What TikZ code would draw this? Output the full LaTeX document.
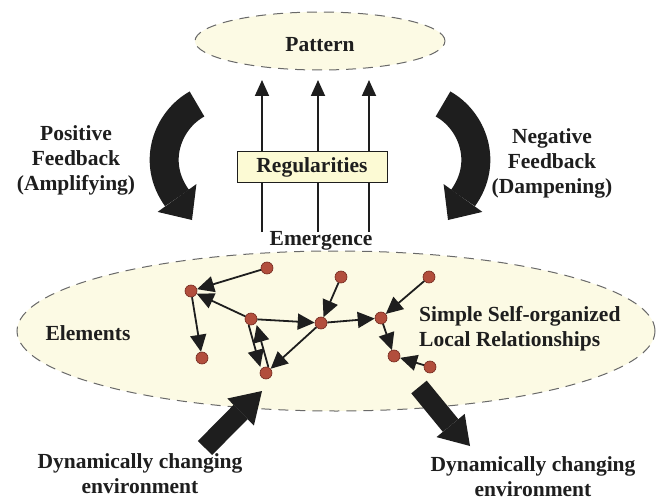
\documentclass[tikz,border=0pt]{standalone}
\usepackage{fontspec}
\setmainfont{Liberation Serif}
\usetikzlibrary{arrows.meta,shapes.geometric}
\definecolor{cream}{RGB}{252,250,228}
\definecolor{boxfill}{RGB}{252,250,212}
\definecolor{dashgray}{RGB}{105,105,105}
\definecolor{dotfill}{RGB}{178,78,60}
\definecolor{dotdraw}{RGB}{115,40,30}
\definecolor{ink}{RGB}{30,30,30}
\begin{document}
\begin{tikzpicture}[x=1pt,y=-1pt,
  cloud/.style={ellipse, draw=dashgray, fill=cream, line width=1pt, dash pattern=on 10pt off 7pt, inner sep=0pt},
  lbl/.style={font=\fontsize{21.5}{25}\selectfont\bfseries, align=center, inner sep=0pt, text=ink},
  dot/.style={circle, draw=dotdraw, fill=dotfill, line width=0.6pt, minimum size=12pt, inner sep=0pt},
  edge/.style={line width=1.8pt, draw=ink, -{Triangle[length=17pt,width=16pt]}},
  uparrow/.style={line width=1.8pt, draw=ink, -{Triangle[length=16pt,width=14pt]}},
  bigshaft/.style={line width=29pt, draw=ink},
  straightshaft/.style={line width=20pt, draw=ink},
  headfill/.style={fill=ink}
]
\useasboundingbox (0,0) rectangle (656,500);

% background ellipses
\node[cloud, minimum width=638pt, minimum height=160pt] (env) at (336,331) {};
\node[cloud, minimum width=250pt, minimum height=58pt] (pat) at (320,41) {};
\node[lbl] (pattern) at (320,45) {Pattern};

% emergence arrows
\coordinate (a1s) at (262,232); \coordinate (a1e) at (262,80);
\coordinate (a2s) at (318,232); \coordinate (a2e) at (318,80);
\coordinate (a3s) at (369,232); \coordinate (a3e) at (369,80);
\draw[uparrow] (a1s) -- (a1e);
\draw[uparrow] (a2s) -- (a2e);
\draw[uparrow] (a3s) -- (a3e);
\node[lbl, draw=ink, line width=1pt, fill=boxfill, minimum width=150pt, minimum height=30pt] (reg) at (312,167) {Regularities};
\node[lbl] (emerg) at (321,241) {Emergence};

% feedback labels
\node[lbl] (pos) at (76,160) {Positive\\Feedback\\(Amplifying)};
\node[lbl] (neg) at (552,163) {Negative\\Feedback\\(Dampening)};

% left curved arrow
\coordinate (l0) at (197,104); \coordinate (l1) at (168,120);
\coordinate (l2) at (151,162); \coordinate (l3) at (177,198);
\coordinate (lw1) at (196.4,184.1); \coordinate (lw2) at (157.6,211.9);
\coordinate (lt) at (192,220);
\draw[bigshaft] (l0) .. controls (l1) and (l2) .. (l3);
\fill[headfill] (lw1) -- (lt) -- (lw2) -- cycle;

% right curved arrow
\coordinate (r0) at (443,104); \coordinate (r1) at (472,120);
\coordinate (r2) at (489,162); \coordinate (r3) at (463,198);
\coordinate (rw1) at (443.6,184.1); \coordinate (rw2) at (482.4,211.9);
\coordinate (rt) at (448,220);
\draw[bigshaft] (r0) .. controls (r1) and (r2) .. (r3);
\fill[headfill] (rw1) -- (rt) -- (rw2) -- cycle;

% network
\node[dot] (n1) at (267,268) {};
\node[dot] (n2) at (191,291) {};
\node[dot] (n3) at (251,319) {};
\node[dot] (n4) at (202,358) {};
\node[dot] (n5) at (341,277) {};
\node[dot] (n6) at (321,323) {};
\node[dot] (n7) at (266,373) {};
\node[dot] (n8) at (429,277) {};
\node[dot] (n9) at (381,318) {};
\node[dot] (n10) at (394,356) {};
\node[dot] (n11) at (430,367) {};
\draw[edge] (n1) -- (n2);
\draw[edge] (n3) -- (n2);
\draw[edge] (n2) -- (n4);
\draw[edge] (n3) -- (n6);
\draw[edge] (n5) -- (n6);
\draw[edge] (n6) -- (n7);
\draw[edge, transform canvas={xshift=-4pt}] (n3) -- (n7);
\draw[edge, transform canvas={xshift=4pt}] (n7) -- (n3);
\draw[edge] (n6) -- (n9);
\draw[edge] (n8) -- (n9);
\draw[edge] (n9) -- (n10);
\draw[edge] (n11) -- (n10);

\node[lbl] (elem) at (88,333) {Elements};
\node[lbl, anchor=west, align=left] (simple) at (419,329) {Simple Self-organized\\Local Relationships};

% environment arrows
\coordinate (e1s) at (205,448); \coordinate (e1m) at (240.6,412.0);
\coordinate (e1w1) at (253.9,425.5); \coordinate (e1w2) at (227.3,398.5);
\coordinate (e1t) at (262,391);
\draw[straightshaft] (e1s) -- (e1m);
\fill[headfill] (e1w1) -- (e1t) -- (e1w2) -- cycle;

\coordinate (e2s) at (419,387); \coordinate (e2m) at (450.6,425.5);
\coordinate (e2w1) at (436.5,437.1); \coordinate (e2w2) at (464.7,413.9);
\coordinate (e2t) at (470,446);
\draw[straightshaft] (e2s) -- (e2m);
\fill[headfill] (e2w1) -- (e2t) -- (e2w2) -- cycle;

\node[lbl] (envl) at (140,474) {Dynamically changing\\environment};
\node[lbl] (envr) at (533,477) {Dynamically changing\\environment};
\end{tikzpicture}
\end{document}
